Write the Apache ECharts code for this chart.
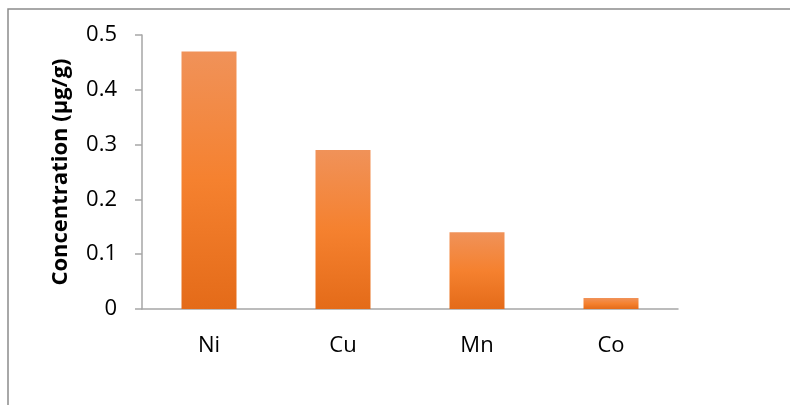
<!DOCTYPE html>
<html>
<head>
<meta charset="utf-8">
<script src="https://cdn.jsdelivr.net/npm/echarts@6/dist/echarts.min.js"></script>
<style>
  html, body { margin: 0; padding: 0; background: #fff; }
  #chart { width: 790px; height: 405px; }
</style>
</head>
<body>
<div id="chart"></div>
<script>
// data
var metals = ['Ni', 'Cu', 'Mn', 'Co'];
var concentration = [0.47, 0.29, 0.14, 0.02];
var yTicks = [0, 0.1, 0.2, 0.3, 0.4, 0.5];

var chart = echarts.init(document.getElementById('chart'), null, { renderer: 'canvas' });
var font = '"Open Sans", "Liberation Sans", sans-serif';
var axisGray = '#a6a6a6';

chart.setOption({
  animation: false,
  grid: { left: 142, top: 35, right: 112, bottom: 96 },
  // outer frame (only top and left edges show)
  graphic: [{
    type: 'polyline',
    shape: { points: [[8, 405], [8, 9], [790, 9]] },
    style: { stroke: '#8c8c8c', lineWidth: 1.5, fill: null }
  }],
  xAxis: {
    type: 'category',
    data: metals,
    axisLine: { lineStyle: { color: axisGray, width: 1.5 } },
    axisTick: { show: false },
    axisLabel: { color: '#000', fontSize: 22, fontFamily: font, margin: 26 }
  },
  yAxis: {
    type: 'value',
    min: yTicks[0],
    max: yTicks[yTicks.length - 1],
    interval: 0.1,
    name: 'Concentration (μg/g)',
    nameLocation: 'middle',
    nameGap: 70,
    nameTextStyle: { color: '#000', fontSize: 22, fontWeight: 'bold', fontFamily: font },
    axisLine: { show: true, lineStyle: { color: axisGray, width: 1.5 } },
    axisTick: { show: true, length: 7, lineStyle: { color: axisGray, width: 1.5 } },
    splitLine: { show: false },
    axisLabel: {
      color: '#000', fontSize: 22, fontFamily: font, margin: 25,
      formatter: function (v) { return String(Math.round(v * 10) / 10); }
    }
  },
  series: [{
    type: 'bar',
    data: concentration,
    barWidth: 55,
    itemStyle: {
      color: new echarts.graphic.LinearGradient(0, 0, 0, 1, [
        { offset: 0, color: '#f09259' },
        { offset: 0.5, color: '#f5812f' },
        { offset: 1, color: '#e46b19' }
      ])
    }
  }]
});
</script>
</body>
</html>
